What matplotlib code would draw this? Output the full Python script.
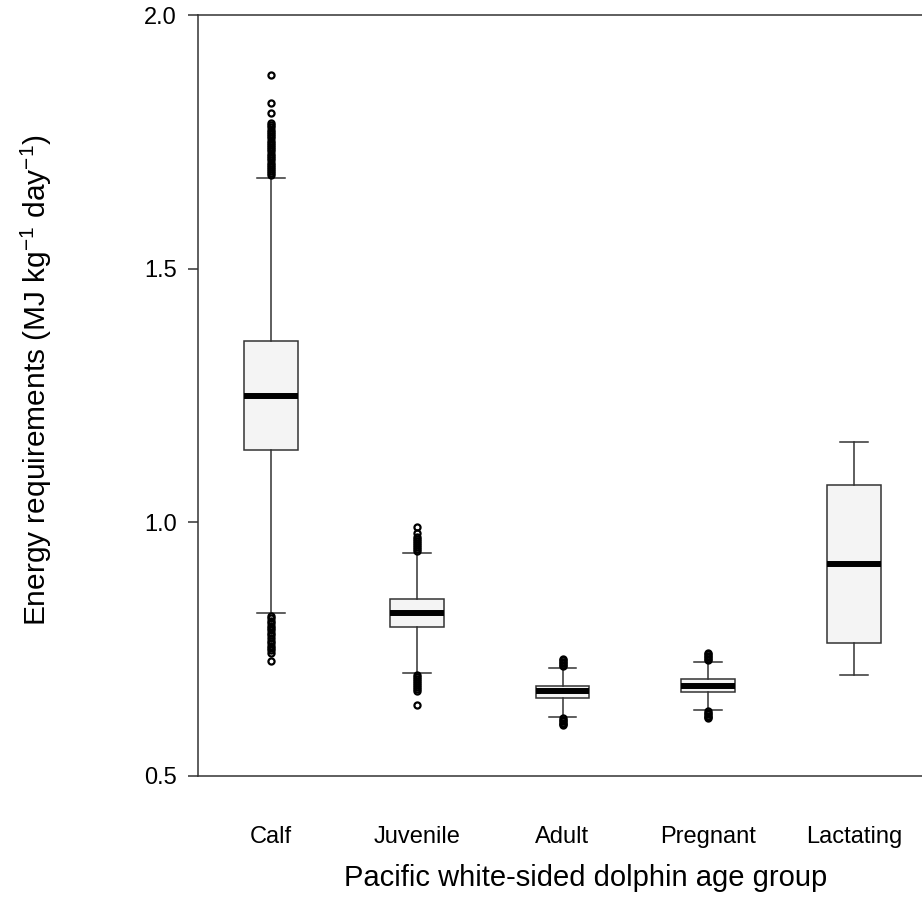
import matplotlib
matplotlib.use("Agg")
import matplotlib.pyplot as plt

plt.rcParams["font.family"] = ["Liberation Sans", "DejaVu Sans"]
plt.rcParams["mathtext.fontset"] = "custom"
plt.rcParams["mathtext.rm"] = "Liberation Sans"

groups = ["Calf", "Juvenile", "Adult", "Pregnant", "Lactating"]

# box statistics (MJ kg-1 day-1)
whislo = [0.821, 0.704, 0.617, 0.631, 0.699]
q1 = [1.143, 0.793, 0.654, 0.666, 0.762]
med = [1.249, 0.821, 0.667, 0.678, 0.918]
q3 = [1.357, 0.849, 0.677, 0.691, 1.074]
whishi = [1.679, 0.940, 0.713, 0.725, 1.159]

# outliers
calf_out = [1.684, 1.688, 1.692, 1.697, 1.701, 1.705, 1.709, 1.714, 1.718,
            1.722, 1.727, 1.731, 1.735, 1.740, 1.744, 1.748, 1.752, 1.757,
            1.761, 1.766, 1.770, 1.774, 1.779, 1.783, 1.788, 1.807, 1.827,
            1.881,
            0.816, 0.811, 0.806, 0.801, 0.796, 0.792, 0.787, 0.782, 0.777,
            0.772, 0.767, 0.762, 0.757, 0.752, 0.748, 0.743, 0.727]
juv_out = [0.944, 0.948, 0.952, 0.956, 0.960, 0.964, 0.968, 0.972, 0.979,
           0.991,
           0.700, 0.696, 0.692, 0.688, 0.684, 0.680, 0.676, 0.672, 0.667,
           0.639]
adult_out = [0.716, 0.719, 0.722, 0.725, 0.728, 0.730,
             0.614, 0.611, 0.608, 0.605, 0.602, 0.600]
preg_out = [0.728, 0.731, 0.734, 0.737, 0.740, 0.742,
            0.628, 0.625, 0.622, 0.619, 0.616, 0.614]
lact_out = []
fliers = [calf_out, juv_out, adult_out, preg_out, lact_out]

stats = []
for i in range(len(groups)):
    stats.append({"label": groups[i], "whislo": whislo[i], "q1": q1[i],
                  "med": med[i], "q3": q3[i], "whishi": whishi[i],
                  "fliers": fliers[i]})

fig = plt.figure(figsize=(9.22, 9.17), dpi=100)
W, H = 922, 917
ax = fig.add_axes([198 / W, (H - 776) / H, (927 - 198) / W, (776 - 15) / H])

edge = "#333333"
ax.bxp(stats, positions=range(1, 6), widths=0.37, capwidths=0.19,
       patch_artist=True,
       boxprops=dict(facecolor="#f4f4f4", edgecolor=edge, linewidth=1.1),
       whiskerprops=dict(color=edge, linewidth=1.1),
       capprops=dict(color=edge, linewidth=1.1),
       medianprops=dict(color="black", linewidth=4.3, solid_capstyle="butt"),
       flierprops=dict(marker="o", markersize=4.4, markerfacecolor="none",
                       markeredgecolor="black", markeredgewidth=1.6))

ax.set_xlim(0.5, 5.5)
ax.set_ylim(0.5, 2.0)
ax.set_yticks([0.5, 1.0, 1.5, 2.0])
ax.set_yticklabels(["0.5", "1.0", "1.5", "2.0"])
ax.tick_params(axis="y", length=7.2, width=1.1, color=edge, pad=8,
               labelsize=17)
ax.tick_params(axis="x", length=0, pad=36, labelsize=17)
for s in ax.spines.values():
    s.set_color(edge)
    s.set_linewidth(1.1)

ax.set_xlabel("Pacific white-sided dolphin age group", fontsize=21)
ax.xaxis.set_label_coords(0.532, -0.115)
ax.set_ylabel(r"Energy requirements (MJ kg$^{\mathregular{-1}}$ day$^{\mathregular{-1}}$)",
              fontsize=21.5)
ax.yaxis.set_label_coords(-0.198, 0.52)

fig.savefig("out.png", dpi=100)
